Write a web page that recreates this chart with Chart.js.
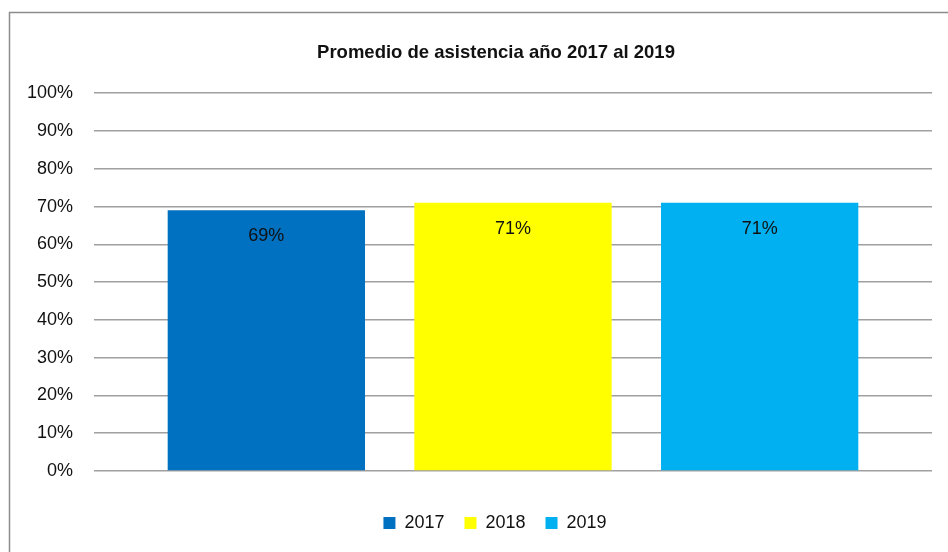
<!DOCTYPE html>
<html>
<head>
<meta charset="utf-8">
<script src="https://cdn.jsdelivr.net/npm/chart.js@4/dist/chart.umd.min.js"></script>
<style>
  html, body { margin: 0; padding: 0; background: #fff; }
  #wrap { width: 948px; height: 552px; position: relative; }
</style>
</head>
<body>
<div id="wrap"><canvas id="chart" width="948" height="552"></canvas></div>
<script>
const CHART = document.getElementById("chart");

// data
var categories = [''];
var years = ['2017', '2018', '2019'];
var values2017 = [69];
var values2018 = [71];
var values2019 = [71];
var colors = ['#0070C0', '#FFFF00', '#00B0F0'];

var FONT = "'Liberation Sans', Arial, sans-serif";

// outer frame like the office chart border
var framePlugin = {
    id: 'frame',
    beforeDraw: function(chart) {
        var ctx = chart.ctx;
        ctx.save();
        ctx.strokeStyle = '#8c8c8c';
        ctx.lineWidth = 1.5;
        ctx.beginPath();
        ctx.moveTo(9.5, 560);
        ctx.lineTo(9.5, 12.5);
        ctx.lineTo(960, 12.5);
        ctx.stroke();
        ctx.restore();
    },
    // the original centres title and legend a bit right of the canvas middle
    afterLayout: function(chart) {
        if (chart.titleBlock) {
            chart.titleBlock.left += 30;
            chart.titleBlock.right += 30;
        }
        if (chart.legend) {
            chart.legend.left += 29;
            chart.legend.right += 29;
        }
    }
};

// value labels inside the top of each bar
var labelPlugin = {
    id: 'barLabels',
    afterDatasetsDraw: function(chart) {
        var ctx = chart.ctx;
        ctx.save();
        ctx.font = '18px ' + FONT;
        ctx.fillStyle = '#111';
        ctx.textAlign = 'center';
        ctx.textBaseline = 'middle';
        chart.data.datasets.forEach(function(ds, i) {
            var meta = chart.getDatasetMeta(i);
            meta.data.forEach(function(bar, j) {
                ctx.fillText(ds.data[j] + '%', bar.x, bar.y + 26);
            });
        });
        ctx.restore();
    }
};

const chart = new Chart(CHART, {
    type: 'bar',
    data: {
        labels: categories,
        datasets: [
            { label: years[0], data: values2017, backgroundColor: colors[0] },
            { label: years[1], data: values2018, backgroundColor: colors[1] },
            { label: years[2], data: values2019, backgroundColor: colors[2] }
        ]
    },
    options: {
        responsive: false,
        animation: false,
        layout: { padding: { left: 0, right: 16, top: 0, bottom: 10 } },
        datasets: { bar: { barPercentage: 0.8, categoryPercentage: 0.883 } },
        scales: {
            x: {
                afterFit: function(s) { s.height = 23; },
                grid: { display: false },
                border: { display: false },
                ticks: { display: false }
            },
            y: {
                min: 0,
                max: 100,
                afterFit: function(s) { s.width = 94; },
                border: { display: false },
                grid: { color: '#a0a0a0', lineWidth: 1.5, drawTicks: false },
                ticks: {
                    stepSize: 10,
                    padding: 21,
                    color: '#111',
                    font: { family: FONT, size: 18 },
                    callback: function(v) { return v + '%'; }
                }
            }
        },
        plugins: {
            title: {
                display: true,
                text: 'Promedio de asistencia año 2017 al 2019',
                color: '#111',
                font: { family: FONT, size: 18.5, weight: 'bold' },
                padding: { top: 42, bottom: 29 }
            },
            legend: {
                position: 'bottom',
                labels: {
                    boxWidth: 12,
                    boxHeight: 12,
                    padding: 20,
                    color: '#111',
                    font: { family: FONT, size: 18 }
                }
            },
            tooltip: { enabled: false }
        }
    },
    plugins: [framePlugin, labelPlugin]
});
</script>
</body>
</html>
